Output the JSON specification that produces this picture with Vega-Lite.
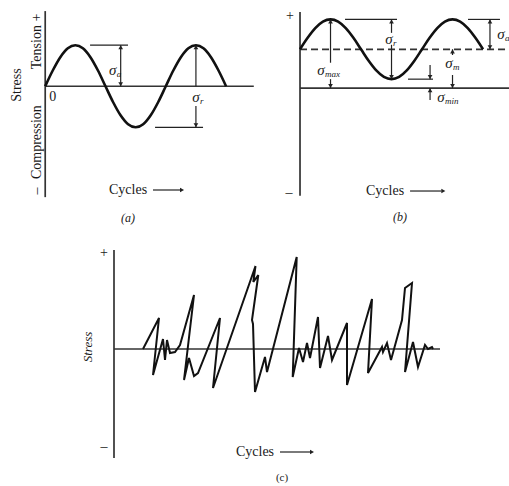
{
  "$schema": "https://vega.github.io/schema/vega-lite/v6.json",
  "padding": 0,
  "spacing": 0,
  "config": {
    "view": {"stroke": null},
    "text": {"font": "Liberation Serif", "fontSize": 14, "color": "#1a1a1a"}
  },
  "datasets": {
    "curve": [
      {"p": "a", "i": 0, "x": 0, "y": 0},
      {"p": "a", "i": 1, "x": 0.0625, "y": 0.383},
      {"p": "a", "i": 2, "x": 0.125, "y": 0.707},
      {"p": "a", "i": 3, "x": 0.1875, "y": 0.924},
      {"p": "a", "i": 4, "x": 0.25, "y": 1},
      {"p": "a", "i": 5, "x": 0.3125, "y": 0.924},
      {"p": "a", "i": 6, "x": 0.375, "y": 0.707},
      {"p": "a", "i": 7, "x": 0.4375, "y": 0.383},
      {"p": "a", "i": 8, "x": 0.5, "y": 0},
      {"p": "a", "i": 9, "x": 0.5625, "y": -0.383},
      {"p": "a", "i": 10, "x": 0.625, "y": -0.707},
      {"p": "a", "i": 11, "x": 0.6875, "y": -0.924},
      {"p": "a", "i": 12, "x": 0.75, "y": -1},
      {"p": "a", "i": 13, "x": 0.8125, "y": -0.924},
      {"p": "a", "i": 14, "x": 0.875, "y": -0.707},
      {"p": "a", "i": 15, "x": 0.9375, "y": -0.383},
      {"p": "a", "i": 16, "x": 1, "y": 0},
      {"p": "a", "i": 17, "x": 1.0625, "y": 0.383},
      {"p": "a", "i": 18, "x": 1.125, "y": 0.707},
      {"p": "a", "i": 19, "x": 1.1875, "y": 0.924},
      {"p": "a", "i": 20, "x": 1.25, "y": 1},
      {"p": "a", "i": 21, "x": 1.3125, "y": 0.924},
      {"p": "a", "i": 22, "x": 1.375, "y": 0.707},
      {"p": "a", "i": 23, "x": 1.4375, "y": 0.383},
      {"p": "a", "i": 24, "x": 1.5, "y": 0},
      {"p": "b", "i": 0, "x": 0, "y": 1.3},
      {"p": "b", "i": 1, "x": 0.0625, "y": 1.683},
      {"p": "b", "i": 2, "x": 0.125, "y": 2.007},
      {"p": "b", "i": 3, "x": 0.1875, "y": 2.224},
      {"p": "b", "i": 4, "x": 0.25, "y": 2.3},
      {"p": "b", "i": 5, "x": 0.3125, "y": 2.224},
      {"p": "b", "i": 6, "x": 0.375, "y": 2.007},
      {"p": "b", "i": 7, "x": 0.4375, "y": 1.683},
      {"p": "b", "i": 8, "x": 0.5, "y": 1.3},
      {"p": "b", "i": 9, "x": 0.5625, "y": 0.917},
      {"p": "b", "i": 10, "x": 0.625, "y": 0.593},
      {"p": "b", "i": 11, "x": 0.6875, "y": 0.376},
      {"p": "b", "i": 12, "x": 0.75, "y": 0.3},
      {"p": "b", "i": 13, "x": 0.8125, "y": 0.376},
      {"p": "b", "i": 14, "x": 0.875, "y": 0.593},
      {"p": "b", "i": 15, "x": 0.9375, "y": 0.917},
      {"p": "b", "i": 16, "x": 1, "y": 1.3},
      {"p": "b", "i": 17, "x": 1.0625, "y": 1.683},
      {"p": "b", "i": 18, "x": 1.125, "y": 2.007},
      {"p": "b", "i": 19, "x": 1.1875, "y": 2.224},
      {"p": "b", "i": 20, "x": 1.25, "y": 2.3},
      {"p": "b", "i": 21, "x": 1.3125, "y": 2.224},
      {"p": "b", "i": 22, "x": 1.375, "y": 2.007},
      {"p": "b", "i": 23, "x": 1.4375, "y": 1.683},
      {"p": "b", "i": 24, "x": 1.5, "y": 1.3},
      {"p": "c", "i": 0, "x": 2.9, "y": 0},
      {"p": "c", "i": 1, "x": 4.5, "y": 3.1},
      {"p": "c", "i": 2, "x": 3.9, "y": -2.6},
      {"p": "c", "i": 3, "x": 4.9, "y": 1.0},
      {"p": "c", "i": 4, "x": 5.1, "y": -1.1},
      {"p": "c", "i": 5, "x": 5.3, "y": 0.9},
      {"p": "c", "i": 6, "x": 5.6, "y": -0.4},
      {"p": "c", "i": 7, "x": 6.1, "y": -0.3},
      {"p": "c", "i": 8, "x": 6.6, "y": 0.4},
      {"p": "c", "i": 9, "x": 8.0, "y": 5.4},
      {"p": "c", "i": 10, "x": 7.0, "y": -3.1},
      {"p": "c", "i": 11, "x": 7.5, "y": -0.9},
      {"p": "c", "i": 12, "x": 8.0, "y": -2.7},
      {"p": "c", "i": 13, "x": 8.4, "y": -2.4},
      {"p": "c", "i": 14, "x": 10.6, "y": 3.1},
      {"p": "c", "i": 15, "x": 9.9, "y": -3.9},
      {"p": "c", "i": 16, "x": 14.15, "y": 8.3},
      {"p": "c", "i": 17, "x": 13.93, "y": 6.7},
      {"p": "c", "i": 18, "x": 14.43, "y": 7.4},
      {"p": "c", "i": 19, "x": 13.8, "y": 2.9},
      {"p": "c", "i": 20, "x": 13.9, "y": 2.5},
      {"p": "c", "i": 21, "x": 14.1, "y": -4.3},
      {"p": "c", "i": 22, "x": 15.1, "y": -0.8},
      {"p": "c", "i": 23, "x": 15.3, "y": -2.3},
      {"p": "c", "i": 24, "x": 18.27, "y": 9.2},
      {"p": "c", "i": 25, "x": 17.87, "y": -2.8},
      {"p": "c", "i": 26, "x": 18.5, "y": 0.1},
      {"p": "c", "i": 27, "x": 18.9, "y": -1.3},
      {"p": "c", "i": 28, "x": 19.3, "y": 0.6},
      {"p": "c", "i": 29, "x": 19.6, "y": -0.9},
      {"p": "c", "i": 30, "x": 20.4, "y": 3.2},
      {"p": "c", "i": 31, "x": 20.6, "y": -1.9},
      {"p": "c", "i": 32, "x": 21.4, "y": 1.3},
      {"p": "c", "i": 33, "x": 21.8, "y": -1.1},
      {"p": "c", "i": 34, "x": 23.3, "y": 2.6},
      {"p": "c", "i": 35, "x": 23.3, "y": -3.6},
      {"p": "c", "i": 36, "x": 25.8, "y": 5.0},
      {"p": "c", "i": 37, "x": 25.4, "y": -2.4},
      {"p": "c", "i": 38, "x": 26.8, "y": 0.2},
      {"p": "c", "i": 39, "x": 26.9, "y": -0.3},
      {"p": "c", "i": 40, "x": 27.3, "y": 0.6},
      {"p": "c", "i": 41, "x": 27.7, "y": -1.1},
      {"p": "c", "i": 42, "x": 28.8, "y": 2.9},
      {"p": "c", "i": 43, "x": 29.1, "y": 6.1},
      {"p": "c", "i": 44, "x": 29.8, "y": 6.6},
      {"p": "c", "i": 45, "x": 29.1, "y": -2.3},
      {"p": "c", "i": 46, "x": 29.9, "y": 0.7},
      {"p": "c", "i": 47, "x": 30.4, "y": -1.8},
      {"p": "c", "i": 48, "x": 31.1, "y": 0.4},
      {"p": "c", "i": 49, "x": 31.4, "y": 0},
      {"p": "c", "i": 50, "x": 31.8, "y": 0.2},
      {"p": "c", "i": 51, "x": 31.9, "y": 0}
    ],
    "axes": [
      {"p": "a", "x": 0, "y": 1.83, "x2": 0, "y2": -2.7},
      {"p": "a", "x": 0, "y": 0, "x2": 1.73, "y2": 0},
      {"p": "b", "x": 0, "y": 2.55, "x2": 0, "y2": -3.6},
      {"p": "b", "x": 0, "y": 0, "x2": 1.713, "y2": 0},
      {"p": "c", "x": 0, "y": 9.9, "x2": 0, "y2": -10.9},
      {"p": "c", "x": 0, "y": 0, "x2": 32.6, "y2": 0}
    ],
    "dash": [
      {"p": "b", "x": 0, "y": 1.3, "x2": 1.713, "y2": 1.3}
    ],
    "dims": [
      {"p": "a", "x": 0.372, "y": 1, "x2": 0.687, "y2": 1},
      {"p": "a", "x": 0.626, "y": 1, "x2": 0.626, "y2": 0},
      {"p": "a", "x": 1.25, "y": 1, "x2": 1.25, "y2": 0},
      {"p": "a", "x": 1.25, "y": -0.48, "x2": 1.25, "y2": -1},
      {"p": "a", "x": 0.911, "y": -1, "x2": 1.309, "y2": -1},
      {"p": "a", "x": 0.894, "y": -2.526, "x2": 1.12, "y2": -2.526},
      {"p": "b", "x": 0.25, "y": 2.3, "x2": 0.25, "y2": 0.85},
      {"p": "b", "x": 0.25, "y": 0.3, "x2": 0.25, "y2": 0},
      {"p": "b", "x": 0.369, "y": 2.3, "x2": 0.795, "y2": 2.3},
      {"p": "b", "x": 0.75, "y": 2.3, "x2": 0.75, "y2": 1.85},
      {"p": "b", "x": 0.75, "y": 1.45, "x2": 0.75, "y2": 0.3},
      {"p": "b", "x": 0.885, "y": 0.3, "x2": 1.09, "y2": 0.3},
      {"p": "b", "x": 1.066, "y": 0.773, "x2": 1.066, "y2": 0.3},
      {"p": "b", "x": 1.066, "y": -0.4, "x2": 1.066, "y2": 0},
      {"p": "b", "x": 1.25, "y": 1.3, "x2": 1.25, "y2": 1.108},
      {"p": "b", "x": 1.25, "y": 0.44, "x2": 1.25, "y2": 0},
      {"p": "b", "x": 1.377, "y": 2.3, "x2": 1.639, "y2": 2.3},
      {"p": "b", "x": 1.557, "y": 2.3, "x2": 1.557, "y2": 1.3},
      {"p": "b", "x": 0.902, "y": -3.445, "x2": 1.16, "y2": -3.445},
      {"p": "c", "x": 16.6, "y": -10.3, "x2": 19.6, "y2": -10.3}
    ],
    "heads": [
      {"p": "a", "x": 0.626, "y": 0.95, "dir": "up"},
      {"p": "a", "x": 0.626, "y": 0.05, "dir": "down"},
      {"p": "a", "x": 1.25, "y": 0.95, "dir": "up"},
      {"p": "a", "x": 1.25, "y": -0.95, "dir": "down"},
      {"p": "a", "x": 1.135, "y": -2.526, "dir": "right"},
      {"p": "b", "x": 0.25, "y": 2.23, "dir": "up"},
      {"p": "b", "x": 0.25, "y": 0.07, "dir": "down"},
      {"p": "b", "x": 0.75, "y": 2.23, "dir": "up"},
      {"p": "b", "x": 0.75, "y": 0.37, "dir": "down"},
      {"p": "b", "x": 1.066, "y": 0.37, "dir": "down"},
      {"p": "b", "x": 1.066, "y": -0.07, "dir": "up"},
      {"p": "b", "x": 1.25, "y": 1.23, "dir": "up"},
      {"p": "b", "x": 1.25, "y": 0.07, "dir": "down"},
      {"p": "b", "x": 1.557, "y": 2.23, "dir": "up"},
      {"p": "b", "x": 1.557, "y": 1.37, "dir": "down"},
      {"p": "b", "x": 1.175, "y": -3.445, "dir": "right"},
      {"p": "c", "x": 19.8, "y": -10.3, "dir": "right"}
    ],
    "labels": [
      {"p": "a", "x": 0.062, "y": -0.26, "text": "0"},
      {"p": "a", "x": 0.687, "y": -2.526, "text": "Cycles"},
      {"p": "b", "x": -0.082, "y": 2.414, "text": "+"},
      {"p": "b", "x": -0.09, "y": -3.514, "text": "–"},
      {"p": "b", "x": 0.697, "y": -3.445, "text": "Cycles"},
      {"p": "c", "x": -1.0, "y": 9.6, "text": "+"},
      {"p": "c", "x": -1.0, "y": -9.8, "text": "–"},
      {"p": "c", "x": 14.1, "y": -10.3, "text": "Cycles"}
    ],
    "vlabels": [
      {"p": "a", "x": -0.234, "y": 0.03, "text": "Stress"},
      {"p": "a", "x": -0.068, "y": 1.09, "text": "Tension +"},
      {"p": "a", "x": -0.068, "y": -1.36, "text": "Compression"},
      {"p": "a", "x": -0.068, "y": -2.55, "text": "–"},
      {"p": "c", "x": -2.6, "y": 0.2, "text": "Stress"}
    ],
    "captions": [
      {"p": "a", "x": 0.687, "y": -3.208, "text": "(a)"},
      {"p": "b", "x": 0.82, "y": -4.315, "text": "(b)"},
      {"p": "c", "x": 16.8, "y": -12.9, "text": "(c)"}
    ],
    "sigmas": [
      {"p": "a", "x": 0.56, "y": 0.4, "sub": "a"},
      {"p": "a", "x": 1.25, "y": -0.26, "sub": "r"},
      {"p": "b", "x": 0.172, "y": 0.606, "sub": "max"},
      {"p": "b", "x": 0.73, "y": 1.644, "sub": "r"},
      {"p": "b", "x": 1.156, "y": -0.298, "sub": "min"},
      {"p": "b", "x": 1.221, "y": 0.84, "sub": "m"},
      {"p": "b", "x": 1.648, "y": 1.81, "sub": "a"}
    ]
  },
  "vconcat": [
    {
      "hconcat": [
        {
          "width": 255,
          "height": 230,
          "encoding": {
            "x": {"field": "x", "type": "quantitative", "scale": {"domain": [-0.375, 1.74], "nice": false, "zero": false}, "axis": null},
            "y": {"field": "y", "type": "quantitative", "scale": {"domain": [-3.5, 2.1], "nice": false, "zero": false}, "axis": null}
          },
          "layer": [
            {"data": {"name": "axes"}, "transform": [{"filter": "datum.p == 'a'"}], "mark": {"type": "rule", "color": "#333", "strokeWidth": 1.7}, "encoding": {"x2": {"field": "x2"}, "y2": {"field": "y2"}}},
            {"data": {"name": "dims"}, "transform": [{"filter": "datum.p == 'a'"}], "mark": {"type": "rule", "color": "#222", "strokeWidth": 1.2}, "encoding": {"x2": {"field": "x2"}, "y2": {"field": "y2"}}},
            {"data": {"name": "curve"}, "transform": [{"filter": "datum.p == 'a'"}], "mark": {"type": "line", "color": "#111", "strokeWidth": 2.6, "interpolate": "monotone"}, "encoding": {"order": {"field": "i", "type": "quantitative"}}},
            {"data": {"name": "heads"}, "transform": [{"filter": "datum.p == 'a'"}], "mark": {"type": "point", "filled": true, "color": "#222", "size": 22, "opacity": 1}, "encoding": {"shape": {"field": "dir", "type": "nominal", "scale": {"domain": ["up", "down", "right"], "range": ["triangle-up", "triangle-down", "triangle-right"]}, "legend": null}}},
            {"data": {"name": "labels"}, "transform": [{"filter": "datum.p == 'a'"}], "mark": {"type": "text", "align": "center", "baseline": "middle"}, "encoding": {"text": {"field": "text"}}},
            {"data": {"name": "vlabels"}, "transform": [{"filter": "datum.p == 'a'"}], "mark": {"type": "text", "align": "center", "baseline": "middle", "angle": 270}, "encoding": {"text": {"field": "text"}}},
            {"data": {"name": "captions"}, "transform": [{"filter": "datum.p == 'a'"}], "mark": {"type": "text", "align": "center", "baseline": "middle", "fontStyle": "italic", "fontSize": 12}, "encoding": {"text": {"field": "text"}}},
            {"data": {"name": "sigmas"}, "transform": [{"filter": "datum.p == 'a'"}], "mark": {"type": "text", "text": "σ", "align": "center", "baseline": "middle", "fontStyle": "italic", "fontSize": 15}},
            {"data": {"name": "sigmas"}, "transform": [{"filter": "datum.p == 'a'"}], "mark": {"type": "text", "align": "left", "baseline": "middle", "fontStyle": "italic", "fontSize": 9, "dx": 4, "dy": 4}, "encoding": {"text": {"field": "sub"}}}
          ]
        },
        {
          "width": 254,
          "height": 230,
          "encoding": {
            "x": {"field": "x", "type": "quantitative", "scale": {"domain": [-0.369, 1.713], "nice": false, "zero": false}, "axis": null},
            "y": {"field": "y", "type": "quantitative", "scale": {"domain": [-4.75, 2.95], "nice": false, "zero": false}, "axis": null}
          },
          "layer": [
            {"data": {"name": "axes"}, "transform": [{"filter": "datum.p == 'b'"}], "mark": {"type": "rule", "color": "#333", "strokeWidth": 1.7}, "encoding": {"x2": {"field": "x2"}, "y2": {"field": "y2"}}},
            {"data": {"name": "dash"}, "transform": [{"filter": "datum.p == 'b'"}], "mark": {"type": "rule", "color": "#333", "strokeWidth": 1.7, "strokeDash": [7, 4]}, "encoding": {"x2": {"field": "x2"}, "y2": {"field": "y2"}}},
            {"data": {"name": "dims"}, "transform": [{"filter": "datum.p == 'b'"}], "mark": {"type": "rule", "color": "#222", "strokeWidth": 1.2}, "encoding": {"x2": {"field": "x2"}, "y2": {"field": "y2"}}},
            {"data": {"name": "curve"}, "transform": [{"filter": "datum.p == 'b'"}], "mark": {"type": "line", "color": "#111", "strokeWidth": 2.6, "interpolate": "monotone"}, "encoding": {"order": {"field": "i", "type": "quantitative"}}},
            {"data": {"name": "heads"}, "transform": [{"filter": "datum.p == 'b'"}], "mark": {"type": "point", "filled": true, "color": "#222", "size": 22, "opacity": 1}, "encoding": {"shape": {"field": "dir", "type": "nominal", "scale": {"domain": ["up", "down", "right"], "range": ["triangle-up", "triangle-down", "triangle-right"]}, "legend": null}}},
            {"data": {"name": "labels"}, "transform": [{"filter": "datum.p == 'b'"}], "mark": {"type": "text", "align": "center", "baseline": "middle"}, "encoding": {"text": {"field": "text"}}},
            {"data": {"name": "captions"}, "transform": [{"filter": "datum.p == 'b'"}], "mark": {"type": "text", "align": "center", "baseline": "middle", "fontStyle": "italic", "fontSize": 12}, "encoding": {"text": {"field": "text"}}},
            {"data": {"name": "sigmas"}, "transform": [{"filter": "datum.p == 'b'"}], "mark": {"type": "text", "text": "σ", "align": "center", "baseline": "middle", "fontStyle": "italic", "fontSize": 15, "clip": true}},
            {"data": {"name": "sigmas"}, "transform": [{"filter": "datum.p == 'b'"}], "mark": {"type": "text", "align": "left", "baseline": "middle", "fontStyle": "italic", "fontSize": 9, "dx": 4, "dy": 4, "clip": true}, "encoding": {"text": {"field": "sub"}}}
          ]
        }
      ],
      "spacing": 0,
      "bounds": "flush"
    },
    {
      "width": 509,
      "height": 256,
      "encoding": {
        "x": {"field": "x", "type": "quantitative", "scale": {"domain": [-11.4, 39.5], "nice": false, "zero": false}, "axis": null},
        "y": {"field": "y", "type": "quantitative", "scale": {"domain": [-13.7, 11.9], "nice": false, "zero": false}, "axis": null}
      },
      "layer": [
        {"data": {"name": "axes"}, "transform": [{"filter": "datum.p == 'c'"}], "mark": {"type": "rule", "color": "#333", "strokeWidth": 1.7}, "encoding": {"x2": {"field": "x2"}, "y2": {"field": "y2"}}},
        {"data": {"name": "dims"}, "transform": [{"filter": "datum.p == 'c'"}], "mark": {"type": "rule", "color": "#222", "strokeWidth": 1.2}, "encoding": {"x2": {"field": "x2"}, "y2": {"field": "y2"}}},
        {"data": {"name": "curve"}, "transform": [{"filter": "datum.p == 'c'"}], "mark": {"type": "line", "color": "#111", "strokeWidth": 2, "strokeJoin": "miter"}, "encoding": {"order": {"field": "i", "type": "quantitative"}}},
        {"data": {"name": "heads"}, "transform": [{"filter": "datum.p == 'c'"}], "mark": {"type": "point", "filled": true, "color": "#222", "size": 22, "opacity": 1}, "encoding": {"shape": {"field": "dir", "type": "nominal", "scale": {"domain": ["up", "down", "right"], "range": ["triangle-up", "triangle-down", "triangle-right"]}, "legend": null}}},
        {"data": {"name": "labels"}, "transform": [{"filter": "datum.p == 'c'"}], "mark": {"type": "text", "align": "center", "baseline": "middle"}, "encoding": {"text": {"field": "text"}}},
        {"data": {"name": "vlabels"}, "transform": [{"filter": "datum.p == 'c'"}], "mark": {"type": "text", "align": "center", "baseline": "middle", "angle": 270, "fontStyle": "italic", "fontSize": 13}, "encoding": {"text": {"field": "text"}}},
        {"data": {"name": "captions"}, "transform": [{"filter": "datum.p == 'c'"}], "mark": {"type": "text", "align": "center", "baseline": "middle", "fontSize": 11}, "encoding": {"text": {"field": "text"}}}
      ]
    }
  ]
}
